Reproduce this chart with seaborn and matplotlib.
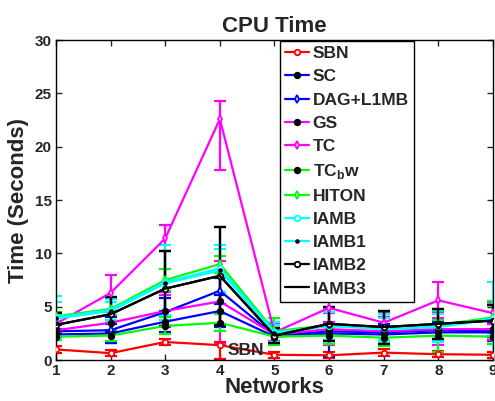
import numpy as np
import pandas as pd
import matplotlib
matplotlib.use("Agg")
import matplotlib.pyplot as plt
import seaborn as sns

networks = [1, 2, 3, 4, 5, 6, 7, 8, 9]

sbn = [1.0, 0.65, 1.7, 1.4, 0.5, 0.45, 0.7, 0.55, 0.5]
sc = [2.4, 2.5, 3.6, 4.6, 2.2, 2.5, 2.4, 2.6, 2.6]
dag_l1mb = [2.7, 2.8, 4.5, 6.5, 2.3, 2.7, 2.6, 2.8, 2.7]
gs = [2.8, 3.5, 4.6, 5.5, 2.4, 2.9, 2.7, 2.9, 2.9]
tc = [3.4, 6.3, 11.4, 22.6, 2.6, 4.9, 3.5, 5.6, 4.4]
tcbw = [2.2, 2.3, 3.2, 3.5, 2.2, 2.3, 2.1, 2.3, 2.2]
hiton = [4.1, 4.8, 7.5, 9.0, 2.7, 3.3, 3.0, 3.3, 4.0]
iamb = [4.0, 4.7, 7.3, 8.6, 2.6, 3.2, 3.0, 3.2, 3.9]
iamb1 = [3.9, 4.6, 7.2, 8.4, 2.5, 3.2, 2.9, 3.1, 3.8]
iamb2 = [3.3, 4.3, 6.7, 7.9, 2.3, 3.4, 3.1, 3.4, 3.7]
iamb3 = [3.3, 4.3, 6.7, 7.9, 2.3, 3.4, 3.1, 3.4, 3.7]

# lower / upper error bar extents for each method
sbn_lo = [0.3, 0.3, 0.3, 1.3, 0.3, 0.3, 0.3, 0.3, 0.3]
sbn_hi = [0.3, 0.3, 0.3, 0.3, 0.3, 0.3, 0.3, 0.3, 0.3]
sc_lo = [0.5, 0.9, 1.0, 1.5, 0.5, 2.2, 0.8, 0.8, 0.8]
sc_hi = [0.5, 0.9, 1.0, 1.5, 0.5, 0.8, 0.8, 0.8, 0.8]
dag_l1mb_lo = [0.6, 1.2, 1.3, 1.2, 0.6, 0.8, 0.8, 0.8, 0.8]
dag_l1mb_hi = [0.6, 1.2, 1.3, 1.2, 0.6, 0.8, 0.8, 0.8, 0.8]
gs_lo = [0.6, 1.0, 1.5, 4.0, 0.6, 1.5, 1.3, 1.5, 1.0]
gs_hi = [0.6, 1.0, 1.5, 3.8, 0.6, 1.5, 1.3, 1.5, 1.0]
tc_lo = [1.0, 1.7, 5.0, 4.8, 0.8, 1.3, 1.0, 1.7, 1.0]
tc_hi = [1.0, 1.7, 1.3, 1.7, 0.8, 0.7, 1.0, 1.7, 1.0]
tcbw_lo = [0.3, 0.5, 0.8, 0.8, 0.8, 0.8, 0.8, 1.5, 0.7]
tcbw_hi = [0.3, 0.5, 0.8, 0.8, 0.8, 0.8, 0.8, 1.5, 0.7]
hiton_lo = [0.4, 0.6, 1.0, 0.8, 1.2, 1.5, 1.3, 1.3, 1.5]
hiton_hi = [0.4, 0.6, 1.0, 0.8, 1.2, 1.5, 1.3, 1.3, 1.5]
iamb_lo = [2.0, 1.0, 3.5, 2.2, 1.0, 1.3, 1.3, 1.5, 3.4]
iamb_hi = [2.0, 1.0, 3.5, 2.2, 1.0, 1.3, 1.3, 1.5, 3.4]
iamb1_lo = [1.5, 0.8, 3.0, 2.0, 0.8, 1.3, 1.0, 1.2, 1.5]
iamb1_hi = [1.5, 0.8, 3.0, 2.0, 0.8, 1.3, 1.0, 1.2, 1.5]
iamb2_lo = [0.9, 1.7, 3.5, 4.6, 0.7, 1.6, 1.6, 1.4, 1.5]
iamb2_hi = [1.1, 1.6, 3.5, 4.6, 0.7, 1.6, 1.5, 1.4, 1.5]
iamb3_lo = iamb2_lo
iamb3_hi = iamb2_hi

labels = ["SBN", "SC", "DAG+L1MB", "GS", "TC", r"TC$_\mathbf{b}$w",
          "HITON", "IAMB", "IAMB1", "IAMB2", "IAMB3"]
values = [sbn, sc, dag_l1mb, gs, tc, tcbw, hiton, iamb, iamb1, iamb2, iamb3]
lowers = [sbn_lo, sc_lo, dag_l1mb_lo, gs_lo, tc_lo, tcbw_lo,
          hiton_lo, iamb_lo, iamb1_lo, iamb2_lo, iamb3_lo]
uppers = [sbn_hi, sc_hi, dag_l1mb_hi, gs_hi, tc_hi, tcbw_hi,
          hiton_hi, iamb_hi, iamb1_hi, iamb2_hi, iamb3_hi]

colors = ["#ff0000", "#0000ff", "#0000ff", "#ff00ff", "#ff00ff", "#00ff00",
          "#00ff00", "#00ffff", "#00ffff", "#000000", "#000000"]
markers = ["o", "o", "d", "o", "d", "o", "d", "o", ".", "o", ""]
filled = [False, True, False, True, False, True, False, False, True, False, False]

sns.set_style("ticks")
plt.rcParams["font.family"] = ["Liberation Sans", "DejaVu Sans"]
plt.rcParams["font.weight"] = "bold"
plt.rcParams["mathtext.fontset"] = "custom"
plt.rcParams["mathtext.bf"] = "Liberation Sans:bold"
plt.rcParams["mathtext.rm"] = "Liberation Sans:bold"

fig = plt.figure(figsize=(4.95, 4.01), dpi=100)
ax = fig.add_axes([0.113, 0.102, 0.883, 0.798])

rows = []
for lab, vals in zip(labels, values):
    for n, v in zip(networks, vals):
        rows.append({"Network": n, "Time": v, "Method": lab})
df = pd.DataFrame(rows)

for lab, vals, lo, hi, c, m, f in zip(labels, values, lowers, uppers,
                                       colors, markers, filled):
    sub = df[df["Method"] == lab]
    ax.errorbar(networks, vals, yerr=[lo, hi], fmt="none", ecolor=c,
                elinewidth=1.6, capsize=4.5, capthick=1.6, zorder=2)
    sns.lineplot(data=sub, x="Network", y="Time", ax=ax, color=c,
                 marker=m if m else None, markersize=4,
                 markerfacecolor="k" if f else "white",
                 markeredgecolor="k" if f else c,
                 markeredgewidth=1.3, linewidth=1.6, label=lab,
                 errorbar=None, zorder=3)

ax.set_xlim(1, 9)
ax.set_ylim(0, 30)
ax.set_xticks(networks)
ax.set_yticks([0, 5, 10, 15, 20, 25, 30])
ax.tick_params(direction="in", top=True, right=True, length=4, width=1,
               labelsize=11, pad=3)
for lbl in ax.get_xticklabels() + ax.get_yticklabels():
    lbl.set_fontweight("bold")
for s in ax.spines.values():
    s.set_visible(True)
    s.set_linewidth(1.0)
    s.set_color("k")

ax.set_xlabel("Networks", fontsize=16, fontweight="bold", labelpad=-1)
ax.set_ylabel("Time (Seconds)", fontsize=16, fontweight="bold", labelpad=4)
ax.set_title("CPU Time", fontsize=16, fontweight="bold", pad=6)

ax.text(4.15, 0.9, "SBN", fontsize=12.5, fontweight="bold", va="center", ha="left")

leg = ax.legend(loc="upper left", bbox_to_anchor=(0.51, 1.0), fontsize=12.5,
                frameon=True, fancybox=False, framealpha=1, edgecolor="k",
                handlelength=1.4, handletextpad=0.2, labelspacing=0.46,
                borderpad=0.3, borderaxespad=0.05)
leg.get_frame().set_linewidth(1.0)
for t in leg.get_texts():
    t.set_fontweight("bold")

fig.savefig("out.png", dpi=100)
